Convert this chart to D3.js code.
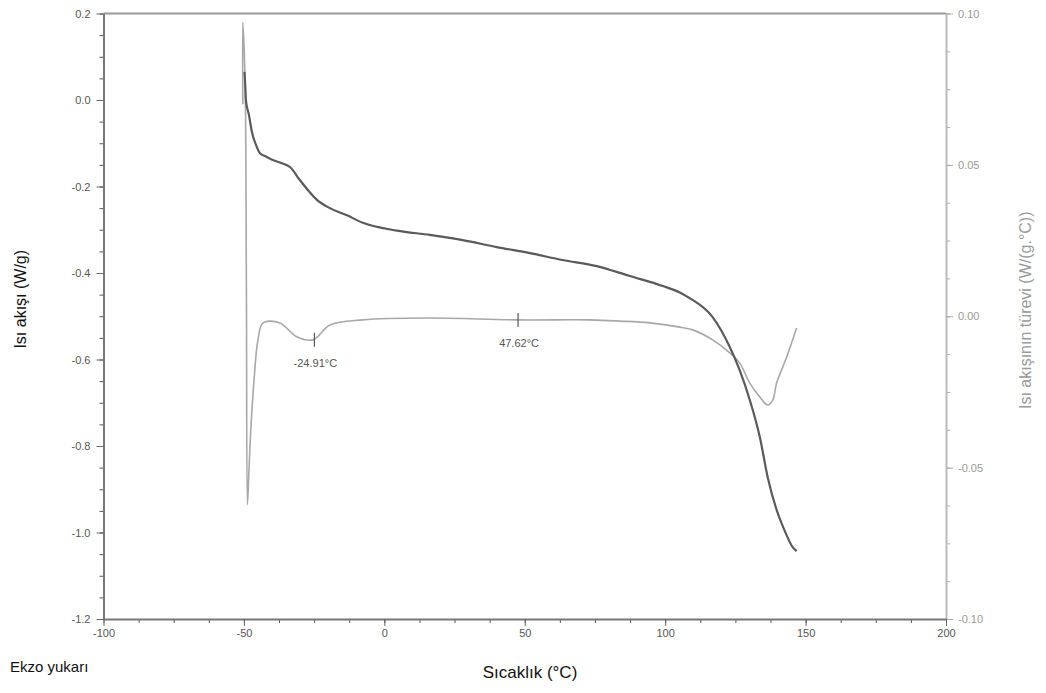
<!DOCTYPE html>
<html>
<head>
<meta charset="utf-8">
<script src="https://cdn.jsdelivr.net/npm/d3@7"></script>
<style>
  body { margin: 0; background: #fff; }
  svg { font-family: "Liberation Sans", Arial, sans-serif; }
</style>
</head>
<body>
<svg id="chart" width="1046" height="693"></svg>
<script>
// heat flow curve (left axis), temperature in °C
const hfTemp = [-49.8, -49.5, -49.3, -48.2, -47.15, -45.7, -44.3, -42, -39.7, -36.5, -33.6, -30.1, -27, -24.0, -19.4, -13.5, -7.65, 4.45, 16.2, 27.9, 40.0, 51.8, 63.5, 75.6, 87.4, 99.1, 105.2, 108.7, 116.9, 123.0, 126.5, 130.1, 133.7, 136.5, 139.7, 142.5, 145.4, 146.8];
const hfValue = [0.065, 0.03, 0.0, -0.035, -0.074, -0.104, -0.123, -0.131, -0.139, -0.146, -0.155, -0.185, -0.21, -0.231, -0.250, -0.266, -0.284, -0.302, -0.312, -0.324, -0.340, -0.354, -0.370, -0.384, -0.407, -0.430, -0.445, -0.458, -0.502, -0.571, -0.624, -0.693, -0.779, -0.872, -0.948, -0.995, -1.034, -1.043];

// derivative curve (right axis)
const dTemp = [-50.4, -50.4, -49.6, -49.1, -48.75, -48.2, -47.5, -46.4, -45.0, -43.2, -37.2, -31.2, -25.4, -19.4, -7.65, 16.2, 47.2, 73.1, 83.8, 94.5, 105.2, 109.8, 116.9, 123.0, 126.5, 130.1, 133.7, 136.5, 138.3, 139.7, 143.3, 146.8];
const dValue = [0.070, 0.097, 0.078, 0.0054, -0.0623, -0.0508, -0.0366, -0.0211, -0.0078, -0.0022, -0.0022, -0.0068, -0.0078, -0.0029, -0.0012, -0.0006, -0.0012, -0.0012, -0.0016, -0.0022, -0.0036, -0.0045, -0.0078, -0.0121, -0.0154, -0.0220, -0.0267, -0.0293, -0.0277, -0.0220, -0.0134, -0.0039];

// peak markers on the derivative
const markTemp = [-24.91, 47.62];
const markValue = [-0.0078, -0.0012];
const markLabel = ["-24.91°C", "47.62°C"];

const xTicks = [-100, -50, 0, 50, 100, 150, 200];
const yLeftTicks = [0.2, 0.0, -0.2, -0.4, -0.6, -0.8, -1.0, -1.2];
const yRightTicks = [0.10, 0.05, 0.00, -0.05, -0.10];

const svg = d3.select("#chart");

let x = d3.scaleLinear().domain([-100, 200]).range([103.5, 946]);
let yL = d3.scaleLinear().domain([-1.2, 0.2]).range([619, 13.5]);
let yR = d3.scaleLinear().domain([-0.10, 0.10]).range([619, 13.5]);

// plain hyphen instead of the unicode minus d3 uses
let fmt = spec => { let f = d3.format(spec); return d => f(d).replace("\u2212", "-"); };

// top frame line
svg.append("line")
  .attr("x1", x(-100)).attr("x2", x(200))
  .attr("y1", yL(0.2)).attr("y2", yL(0.2))
  .style("stroke", "#999").style("stroke-width", 2);

// minor ticks first, then major axes on top
let minorX = d3.range(-100, 200.1, 12.5);
let minorL = d3.range(-1.2, 0.21, 0.05);
let minorR = d3.range(-0.1, 0.101, 0.0125);

svg.append("g").attr("transform", `translate(0,${yL(-1.2)})`)
  .call(d3.axisBottom(x).tickValues(minorX).tickSize(4).tickFormat(""))
  .call(g => g.select(".domain").remove())
  .selectAll("line").style("stroke", "#555");

svg.append("g").attr("transform", `translate(${x(-100)},0)`)
  .call(d3.axisLeft(yL).tickValues(minorL).tickSize(4).tickFormat(""))
  .call(g => g.select(".domain").remove())
  .selectAll("line").style("stroke", "#555");

svg.append("g").attr("transform", `translate(${x(200)},0)`)
  .call(d3.axisRight(yR).tickValues(minorR).tickSize(4).tickFormat(""))
  .call(g => g.select(".domain").remove())
  .selectAll("line").style("stroke", "#aaa");

// right axis (light)
let rightAxis = svg.append("g").attr("transform", `translate(${x(200)},0)`)
  .call(d3.axisRight(yR).tickValues(yRightTicks).tickSize(7).tickSizeOuter(0).tickPadding(5).tickFormat(fmt(".2f")));
rightAxis.select(".domain").style("stroke", "#bbb").style("stroke-width", 2);
rightAxis.selectAll("line").style("stroke", "#aaa");
rightAxis.selectAll("text").style("fill", "#999").style("font-size", "11px");

// left axis
let leftAxis = svg.append("g").attr("transform", `translate(${x(-100)},0)`)
  .call(d3.axisLeft(yL).tickValues(yLeftTicks).tickSize(7).tickSizeOuter(0).tickPadding(6).tickFormat(fmt(".1f")));
leftAxis.select(".domain").style("stroke", "#777").style("stroke-width", 2);
leftAxis.selectAll("line").style("stroke", "#666");
leftAxis.selectAll("text").style("fill", "#555").style("font-size", "11px");

// bottom axis
let bottomAxis = svg.append("g").attr("transform", `translate(0,${yL(-1.2)})`)
  .call(d3.axisBottom(x).tickValues(xTicks).tickSize(7).tickSizeOuter(0).tickPadding(3).tickFormat(fmt("d")));
bottomAxis.select(".domain").style("stroke", "#777").style("stroke-width", 2);
bottomAxis.selectAll("line").style("stroke", "#666");
bottomAxis.selectAll("text").style("fill", "#555").style("font-size", "11px");

// derivative line
let derivData = dTemp.map((t, i) => ({ t: t, v: dValue[i] }));
svg.append("path")
  .datum(derivData)
  .attr("d", d3.line().x(d => x(d.t)).y(d => yR(d.v)).curve(d3.curveCatmullRom.alpha(0.5)))
  .style("fill", "none")
  .style("stroke", "#a8a8a8")
  .style("stroke-width", 1.6);

// heat flow line
let hfData = hfTemp.map((t, i) => ({ t: t, v: hfValue[i] }));
svg.append("path")
  .datum(hfData)
  .attr("d", d3.line().x(d => x(d.t)).y(d => yL(d.v)).curve(d3.curveMonotoneX))
  .style("fill", "none")
  .style("stroke", "#5a5a5a")
  .style("stroke-width", 2.2);

// peak markers + labels
markTemp.forEach((t, i) => {
  svg.append("line")
    .attr("x1", x(t)).attr("x2", x(t))
    .attr("y1", yR(markValue[i]) - 7).attr("y2", yR(markValue[i]) + 7)
    .style("stroke", "#555").style("stroke-width", 1.2);
  svg.append("text")
    .attr("x", x(t) + 1).attr("y", yR(markValue[i]) + 27)
    .attr("text-anchor", "middle")
    .style("font-size", "11px").style("fill", "#555")
    .text(markLabel[i]);
});

// titles
svg.append("text")
  .attr("transform", `translate(26,${(yL(0.2) + yL(-1.2)) / 2 - 17}) rotate(-90)`)
  .attr("text-anchor", "middle")
  .style("font-size", "16px").style("fill", "#111")
  .text("Isı akışı (W/g)");

svg.append("text")
  .attr("transform", `translate(1031,${(yR(0.1) + yR(-0.1)) / 2 - 6}) rotate(-90)`)
  .attr("text-anchor", "middle")
  .style("font-size", "16px").style("fill", "#999")
  .text("Isı akışının türevi (W/(g.°C))");

svg.append("text")
  .attr("x", 530).attr("y", 678)
  .attr("text-anchor", "middle")
  .style("font-size", "17px").style("fill", "#111")
  .text("Sıcaklık (°C)");

svg.append("text")
  .attr("x", 10).attr("y", 672)
  .style("font-size", "15px").style("fill", "#111")
  .text("Ekzo yukarı");
</script>
</body>
</html>
